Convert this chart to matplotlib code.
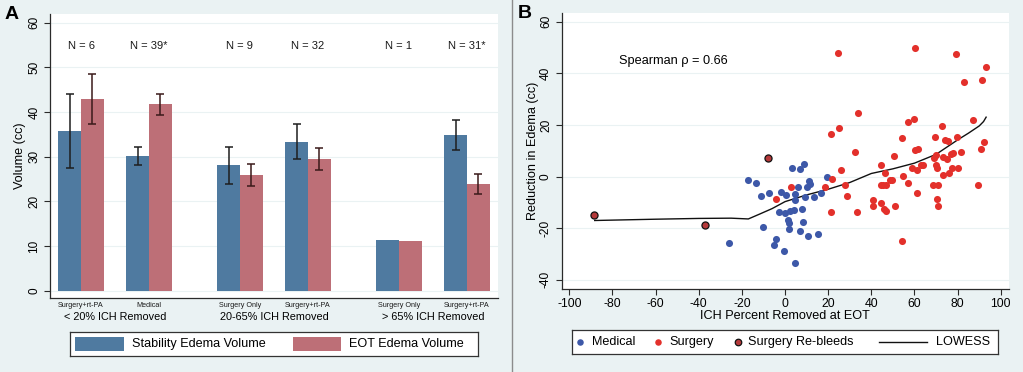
import matplotlib
matplotlib.use("Agg")
import matplotlib.pyplot as plt
from matplotlib.lines import Line2D
from matplotlib.patches import Rectangle

plt.rcParams['font.family'] = ['Liberation Sans', 'DejaVu Sans']
plt.rcParams['axes.unicode_minus'] = False

# ---------------- Panel A data ----------------
subgroups = ["Surgery+rt-PA", "Medical", "Surgery Only", "Surgery+rt-PA", "Surgery Only", "Surgery+rt-PA"]
groups = ["< 20% ICH Removed", "20-65% ICH Removed", "> 65% ICH Removed"]
n_labels = ["N = 6", "N = 39*", "N = 9", "N = 32", "N = 1", "N = 31*"]
stability_vol = [35.7, 30.2, 28.1, 33.4, 11.4, 34.9]
stability_err = [8.3, 2.0, 4.1, 3.9, 0.0, 3.3]
eot_vol = [42.9, 41.7, 25.9, 29.5, 11.1, 23.9]
eot_err = [5.6, 2.35, 2.55, 2.5, 0.0, 2.15]

# ---------------- Panel B data ----------------
medical_x = [-25.9, -17.0, -13.6, -11.0, -10.2, -7.3, -4.2, -5.1, -2.9, -1.7, 0.6, 0.0, -0.3,
             1.4, 1.7, 1.9, 2.5, 3.4, 4.0, 4.6, 4.6, 4.5, 6.0, 7.0, 6.8, 7.7, 8.2, 8.7, 9.1,
             10.8, 11.0, 11.5, 10.4, 13.5, 15.2, 16.9, 19.5]
medical_y = [-25.8, -1.2, -2.6, -7.7, -19.5, -6.2, -24.1, -26.6, -13.7, -5.8, -7.1, -14.2, -29.0,
             -17.0, -20.1, -18.1, -13.2, 3.5, -12.9, -6.8, -9.2, -33.4, -3.9, 2.8, -20.9, -12.6,
             -17.4, 5.0, -8.0, -23.0, -1.7, -3.0, -3.9, -8.0, -22.2, -6.3, -0.1]
surgery_x = [-4.3, 2.6, 18.4, 21.1, 21.5, 21.8, 24.6, 24.9, 25.9, 27.6, 28.6, 32.4, 33.3, 33.6,
             40.7, 41.0, 44.4, 44.3, 44.7, 45.5, 46.3, 46.1, 46.6, 46.9, 48.6, 49.4, 50.5, 51.1,
             54.2, 54.5, 54.3, 56.8, 57.1, 58.8, 59.9, 60.2, 60.4, 61.0, 61.3, 61.8, 63.0, 64.1,
             68.4, 69.0, 69.5, 70.0, 70.3, 70.3, 70.7, 71.1, 72.8, 73.1, 73.4, 74.3, 75.7, 75.0,
             76.2, 76.8, 77.7, 77.2, 79.3, 79.7, 80.0, 81.4, 83.1, 87.0, 89.3, 90.7, 91.2, 92.0,
             93.2, 69.9]
surgery_y = [-8.6, -4.1, -4.0, 16.4, -13.7, -0.9, 48.0, 18.8, 2.6, -3.2, -7.5, 9.7, -13.8, 24.8,
             -11.2, -9.2, 4.4, -10.3, -3.4, -3.2, 1.3, -12.4, -13.5, -3.4, -1.3, -1.3, 8.0, -11.2,
             14.8, 0.3, -24.8, -2.3, 21.2, 3.4, 22.2, 49.7, 10.3, -6.2, 2.6, 10.8, 4.3, 4.3,
             -3.2, 7.1, 15.5, 4.5, 3.2, -8.8, -3.2, -11.4, 19.7, 0.6, 7.7, 14.2, 13.8, 6.8,
             1.5, 8.8, 9.3, 3.5, 47.4, 15.5, 3.5, 9.7, 36.6, 21.8, -3.1, 10.6, 37.2, 13.5,
             42.5, 8.5]
rebleed_x = [-88.3, -36.9, -8.0]
rebleed_y = [-14.9, -18.8, 7.2]
lowess_x = [-88.2, -60, -40, -25, -17, -12, -6, 0, 5, 10, 20, 30, 40, 50, 60, 70, 80, 85, 90, 92, 93.2]
lowess_y = [-17.0, -16.5, -16.2, -16.1, -16.4, -14.6, -12.4, -9.7, -8.4, -7.1, -4.9, -2.3, 1.2,
            3.0, 5.2, 8.6, 14.2, 16.8, 19.6, 21.3, 23.0]

BG = "#eaf2f3"
BLUE = "#4f7aa0"
RED = "#bd6f77"
AXC = "#2a2a2a"
FS = 9.1

fig = plt.figure(figsize=(10.23, 3.72), dpi=100, facecolor=BG)
W, H = 1023.0, 372.0

# separator line
fig.add_artist(Line2D([511.5 / W, 511.5 / W], [0, 1], color="#8c8c8c", lw=1.0, transform=fig.transFigure))

fig.text(5 / W, 1 - 6 / H, "A", fontsize=14, fontweight="bold", ha="left", va="top")
fig.text(518 / W, 1 - 5 / H, "B", fontsize=14, fontweight="bold", ha="left", va="top")


def legend_axes(lx0, lx1, ly0, ly1):
    ax = fig.add_axes([lx0 / W, (H - ly1) / H, (lx1 - lx0) / W, (ly1 - ly0) / H])
    ax.set_xlim(lx0, lx1)
    ax.set_ylim(ly1, ly0)
    ax.set_xticks([])
    ax.set_yticks([])
    ax.set_facecolor("white")
    for s in ax.spines.values():
        s.set_color("#333333")
        s.set_linewidth(0.9)
    return ax


# ---------------- Panel A ----------------
axA = fig.add_axes([50 / W, 74 / H, 448 / W, 284 / H])
centers = [0, 3, 7, 10, 14, 17]
group_centers = [1.5, 8.5, 15.5]
bx = [c - 0.5 for c in centers]
rx = [c + 0.5 for c in centers]
axA.bar(bx, stability_vol, width=1.0, color=BLUE, zorder=2)
axA.bar(rx, eot_vol, width=1.0, color=RED, zorder=2)
for x, v, e in zip(bx, stability_vol, stability_err):
    if e > 0:
        axA.errorbar(x, v, yerr=e, color="#1e1e1e", lw=1.1, capsize=3, capthick=1.1, zorder=3)
for x, v, e in zip(rx, eot_vol, eot_err):
    if e > 0:
        axA.errorbar(x, v, yerr=e, color="#3a1a1a", lw=1.1, capsize=3, capthick=1.1, zorder=3)
for c, t in zip(centers, n_labels):
    axA.text(c, 54.85, t, ha="center", va="center", fontsize=8.0, color="#1a1a1a")
axA.set_xlim(-1.366, 18.37)
axA.set_ylim(-1.63, 61.95)
axA.set_yticks([0, 10, 20, 30, 40, 50, 60])
axA.set_xticks(centers, subgroups, fontsize=5.2)
axA.tick_params(axis="x", length=0, pad=3, colors="#1a1a1a")
axA.tick_params(axis="y", length=4, width=0.8, labelsize=8.5, labelrotation=90, pad=3, color=AXC)
for lab in axA.get_yticklabels():
    lab.set_va("center")
for g, t in zip(group_centers, groups):
    axA.text(g, -0.067, t, transform=axA.get_xaxis_transform(), ha="center", va="center", fontsize=7.8)
axA.set_ylabel("Volume (cc)", fontsize=FS)
axA.yaxis.label.set_va("center")
axA.yaxis.set_label_coords((20.5 - 50) / 448, 0.5)
axA.grid(axis="y", color=BG, lw=0.8, zorder=0)
axA.set_axisbelow(True)
for s in ["top", "right"]:
    axA.spines[s].set_visible(False)
for s in ["left", "bottom"]:
    axA.spines[s].set_color(AXC)
    axA.spines[s].set_linewidth(0.9)

# legend A
axLA = legend_axes(70, 477.7, 331.7, 355.7)
axLA.add_patch(Rectangle((75, 337), 49, 14, facecolor=BLUE, edgecolor="none"))
axLA.text(131.7, 343.7, "Stability Edema Volume", va="center", ha="left", fontsize=FS)
axLA.add_patch(Rectangle((292.7, 337), 48.6, 14, facecolor=RED, edgecolor="none"))
axLA.text(349.3, 343.7, "EOT Edema Volume", va="center", ha="left", fontsize=FS)

# ---------------- Panel B ----------------
axB = fig.add_axes([561.7 / W, 83.3 / H, 447.3 / W, 275.4 / H])
axB.grid(axis="y", color=BG, lw=0.8, zorder=0)
axB.set_axisbelow(True)
axB.plot(lowess_x, lowess_y, color="#111111", lw=1.0, zorder=2)
axB.scatter(medical_x, medical_y, s=26, color="#3d58a8", linewidths=0, zorder=3)
axB.scatter(surgery_x, surgery_y, s=26, color="#e3302b", linewidths=0, zorder=3)
axB.scatter(rebleed_x, rebleed_y, s=26, color="#b5393a", edgecolors="#111111", linewidths=0.9, zorder=4)
axB.text(-76.8, 44.8, "Spearman \u03c1 = 0.66", ha="left", va="center", fontsize=9.2)
axB.set_xlim(-103.5, 103.8)
axB.set_ylim(-43.4, 63.2)
axB.set_xticks(range(-100, 101, 20))
axB.set_yticks(range(-40, 61, 20))
axB.tick_params(axis="x", length=4, width=0.8, labelsize=8.8, pad=2.5, color=AXC)
axB.tick_params(axis="y", length=4, width=0.8, labelsize=8.6, labelrotation=90, pad=3, color=AXC)
for lab in axB.get_yticklabels():
    lab.set_va("center")
axB.set_xlabel("ICH Percent Removed at EOT", fontsize=FS)
axB.xaxis.label.set_va("center")
axB.xaxis.set_label_coords(0.5, (288.7 - 316.0) / 275.4)
axB.set_ylabel("Reduction in Edema (cc)", fontsize=FS)
axB.yaxis.label.set_va("center")
axB.yaxis.set_label_coords((532.7 - 561.7) / 447.3, 0.5)
for s in ["top", "right"]:
    axB.spines[s].set_visible(False)
for s in ["left", "bottom"]:
    axB.spines[s].set_color(AXC)
    axB.spines[s].set_linewidth(0.9)

# legend B
axLB = legend_axes(571.7, 998.3, 330.0, 354.0)
yc = 342.0
axLB.scatter([580], [yc], s=22, color="#3d58a8", linewidths=0)
axLB.text(591.7, yc, "Medical", va="center", ha="left", fontsize=FS)
axLB.scatter([658], [yc], s=22, color="#e3302b", linewidths=0)
axLB.text(669.3, yc, "Surgery", va="center", ha="left", fontsize=FS)
axLB.scatter([737.7], [yc], s=22, color="#b5393a", edgecolors="#111111", linewidths=0.9)
axLB.text(748.3, yc, "Surgery Re-bleeds", va="center", ha="left", fontsize=FS)
axLB.plot([879, 926.7], [yc, yc], color="#111111", lw=1.0)
axLB.text(935.7, yc, "LOWESS", va="center", ha="left", fontsize=FS)

fig.savefig("out.png", dpi=100, facecolor=BG)
